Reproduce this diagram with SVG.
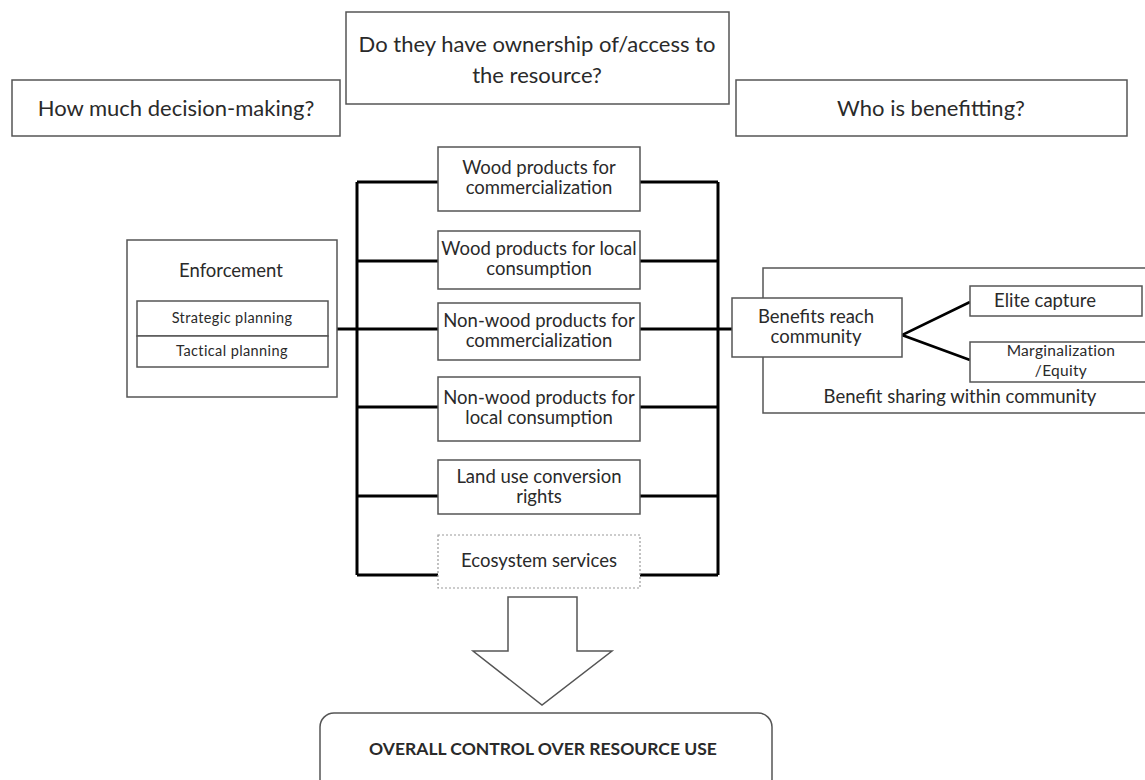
<svg xmlns="http://www.w3.org/2000/svg" width="1145" height="780" viewBox="0 0 1145 780">
<defs>
<style>
.box{fill:#fff;stroke:#555;stroke-width:1.5}
.dot{fill:#fff;stroke:#999;stroke-width:1.2;stroke-dasharray:2 2}
.bus{fill:none;stroke:#000;stroke-width:3}
.fork{fill:none;stroke:#000;stroke-width:2.6}
text{font-family:Lato,"Liberation Sans",sans-serif;fill:#2a2a2a;text-anchor:middle}
.q{font-size:22px}
.c{font-size:18.5px}
.s{font-size:14.5px;letter-spacing:0.4px}
.m{font-size:15.5px;letter-spacing:0.3px}
.b{font-size:17.5px;font-weight:bold}
</style>
</defs>
<rect width="1145" height="780" fill="#fff"/>
<g id="q-decision"><rect class="box" x="12" y="80" width="328" height="56"/><text class="q" x="176" y="116">How much decision-making?</text></g>
<g id="q-ownership"><rect class="box" x="346" y="12" width="383" height="92"/><text class="q" x="537" y="52">Do they have ownership of/access to</text><text class="q" x="537" y="83">the resource?</text></g>
<g id="q-benefit"><rect class="box" x="736" y="80" width="391" height="56"/><text class="q" x="931" y="116">Who is benefitting?</text></g>
<g id="benefit-sharing"><rect class="box" x="763" y="268" width="390" height="145"/><text class="c" x="960" y="403">Benefit sharing within community</text></g>
<g id="connectors">
<path class="bus" d="M357,182 V575 M718,182 V575"/>
<path class="bus" d="M357,182 H438 M357,261 H438 M337,329 H438 M357,407 H438 M357,496 H438 M357,575 H438"/>
<path class="bus" d="M640,182 H718 M640,261 H718 M640,329 H732 M640,407 H718 M640,496 H718 M640,575 H718"/>
<path class="fork" d="M970,302 L902,335 L970,360"/>
</g>
<g id="enforcement"><rect class="box" x="127" y="240" width="210" height="157"/><text class="c" x="231" y="277">Enforcement</text>
<rect class="box" x="137" y="301" width="191" height="35"/><text class="s" x="232" y="323">Strategic planning</text>
<rect class="box" x="137" y="336" width="191" height="31"/><text class="s" x="232" y="356">Tactical planning</text></g>
<g id="wood-comm"><rect class="box" x="438" y="147" width="202" height="64"/><text class="c" x="539" y="174">Wood products for</text><text class="c" x="539" y="194">commercialization</text></g>
<g id="wood-local"><rect class="box" x="438" y="231" width="202" height="58"/><text class="c" x="539" y="255">Wood products for local</text><text class="c" x="539" y="275">consumption</text></g>
<g id="nonwood-comm"><rect class="box" x="438" y="303" width="202" height="57"/><text class="c" x="539" y="327">Non-wood products for</text><text class="c" x="539" y="347">commercialization</text></g>
<g id="nonwood-local"><rect class="box" x="438" y="377" width="202" height="64"/><text class="c" x="539" y="404">Non-wood products for</text><text class="c" x="539" y="424">local consumption</text></g>
<g id="land-use"><rect class="box" x="438" y="460" width="202" height="54"/><text class="c" x="539" y="483">Land use conversion</text><text class="c" x="539" y="503">rights</text></g>
<g id="ecosystem"><rect class="dot" x="438" y="535" width="202" height="53"/><text class="c" x="539" y="567">Ecosystem services</text></g>
<g id="benefits-reach"><rect class="box" x="732" y="298" width="170" height="59"/><text class="c" x="816" y="323">Benefits reach</text><text class="c" x="816" y="343">community</text></g>
<g id="elite"><rect class="box" x="970" y="286" width="172" height="30"/><text class="c" x="1045" y="307">Elite capture</text></g>
<g id="marginal"><rect class="box" x="970" y="342" width="190" height="40"/><text class="m" x="1061" y="356">Marginalization</text><text class="m" x="1061" y="376">/Equity</text></g>
<g id="arrow"><path class="box" d="M508,597 H577 V651 H612 L542,705 L473,651 H508 Z"/></g>
<g id="overall"><rect class="box" x="320" y="713" width="452" height="80" rx="14"/><text class="b" x="543" y="755">OVERALL CONTROL OVER RESOURCE USE</text></g>
</svg>
